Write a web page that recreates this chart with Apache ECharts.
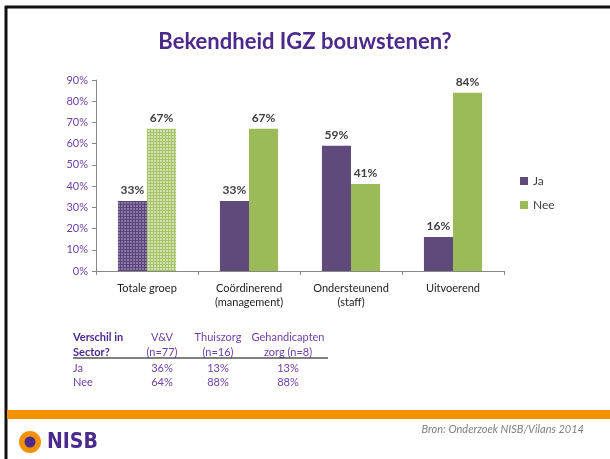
<!DOCTYPE html>
<html>
<head>
<meta charset="utf-8">
<script src="https://cdn.jsdelivr.net/npm/echarts@6/dist/echarts.min.js"></script>
<style>
  html, body { margin: 0; padding: 0; background: #fff; }
  #chart { width: 610px; height: 459px; }
</style>
</head>
<body>
<div id="chart"></div>
<script>
const categories = ['Totale groep', 'Coördinerend\n(management)', 'Ondersteunend\n(staff)', 'Uitvoerend'];
const jaValues = [33, 33, 59, 16];
const neeValues = [67, 67, 41, 84];
const yTicks = [0, 10, 20, 30, 40, 50, 60, 70, 80, 90];

// sector table below the chart
const tableHeaders = ['V&V\n(n=77)', 'Thuiszorg\n(n=16)', 'Gehandicapten\nzorg (n=8)'];
const tableJa = ['36%', '13%', '13%'];
const tableNee = ['64%', '88%', '88%'];

const PURPLE = '#604a7b';
const GREEN = '#9bbb59';
const FONT = 'Lato, "Open Sans", sans-serif';

// plaid fill for the "Totale groep" bars
function plaid(base, line) {
  const c = document.createElement('canvas');
  c.width = 6; c.height = 6;
  const g = c.getContext('2d');
  g.fillStyle = base; g.fillRect(0, 0, 6, 6);
  g.fillStyle = line;
  g.fillRect(0, 0, 6, 1);
  g.fillRect(0, 3, 6, 1);
  g.fillRect(0, 0, 1, 6);
  g.fillRect(3, 0, 1, 6);
  return { image: c, repeat: 'repeat' };
}

const chart = echarts.init(document.getElementById('chart'));

const valueLabel = {
  show: true,
  position: 'top',
  distance: 5,
  formatter: '{c}%',
  fontFamily: FONT,
  fontSize: 12,
  fontWeight: 'bold',
  color: '#404040'
};

const tableColX = [162, 218, 288];
const tableText = [];
tableText.push({ type: 'text', left: 73, top: 330,
  style: { text: 'Verschil in\nSector?', font: 'bold 11px ' + FONT, fill: '#4b2a8c', lineHeight: 15 } });
tableHeaders.forEach((h, i) => {
  tableText.push({ type: 'text', x: tableColX[i], y: 330,
    style: { text: h, font: '11px ' + FONT, fill: '#7040a8', align: 'center', lineHeight: 15 } });
  tableText.push({ type: 'text', x: tableColX[i], y: 363,
    style: { text: tableJa[i], font: '11px ' + FONT, fill: '#7040a8', align: 'center' } });
  tableText.push({ type: 'text', x: tableColX[i], y: 377,
    style: { text: tableNee[i], font: '11px ' + FONT, fill: '#7040a8', align: 'center' } });
});
tableText.push({ type: 'text', left: 73, top: 363, style: { text: 'Ja', font: '11px ' + FONT, fill: '#7040a8' } });
tableText.push({ type: 'text', left: 73, top: 377, style: { text: 'Nee', font: '11px ' + FONT, fill: '#7040a8' } });
tableText.push({ type: 'line', shape: { x1: 73, y1: 358, x2: 328, y2: 358 }, style: { stroke: '#000', lineWidth: 1 } });

const option = {
  backgroundColor: '#fff',
  animation: false,
  title: {
    text: 'Bekendheid IGZ bouwstenen?',
    left: 'center',
    top: 26,
    textStyle: { fontFamily: FONT, fontSize: 22, fontWeight: 'bold', color: '#4b2a8c' }
  },
  legend: {
    orient: 'vertical',
    left: 515,
    top: 170,
    itemWidth: 8,
    itemHeight: 8,
    itemGap: 12,
    icon: 'rect',
    textStyle: { fontFamily: FONT, fontSize: 12, color: '#404040' },
    data: ['Ja', 'Nee']
  },
  grid: { left: 96, right: 106, top: 80, bottom: 188 },
  xAxis: {
    type: 'category',
    data: categories,
    axisLine: { lineStyle: { color: '#888', width: 1 } },
    axisTick: { show: true, length: 4, lineStyle: { color: '#888' } },
    axisLabel: { fontFamily: FONT, fontSize: 11, color: '#222', margin: 10, lineHeight: 14 }
  },
  yAxis: {
    type: 'value',
    min: 0,
    max: 90,
    interval: 10,
    axisLine: { show: true, lineStyle: { color: '#888', width: 1 } },
    axisTick: { show: true, length: 4, lineStyle: { color: '#888' } },
    splitLine: { show: false },
    axisLabel: {
      fontFamily: FONT, fontSize: 11, color: '#7040a8', margin: 8,
      formatter: v => yTicks.includes(v) ? v + '%' : ''
    }
  },
  series: [
    {
      name: 'Ja',
      type: 'bar',
      barCategoryGap: '43%',
      barGap: '0%',
      itemStyle: { color: PURPLE },
      label: valueLabel,
      data: jaValues.map((v, i) => i === 0 ? { value: v, itemStyle: { color: plaid('#8c78a6', '#5a467a') } } : v)
    },
    {
      name: 'Nee',
      type: 'bar',
      barCategoryGap: '43%',
      barGap: '0%',
      itemStyle: { color: GREEN },
      label: valueLabel,
      data: neeValues.map((v, i) => i === 0 ? { value: v, itemStyle: { color: plaid('#d2e2ad', '#a7c46c') } } : v)
    }
  ],
  graphic: [
    // slide frame
    { type: 'line', shape: { x1: 5, y1: 7, x2: 610, y2: 7 }, style: { stroke: '#111', lineWidth: 3 } },
    { type: 'line', shape: { x1: 6, y1: 6, x2: 6, y2: 459 }, style: { stroke: '#111', lineWidth: 3 } },
    // footer
    { type: 'rect', shape: { x: 7, y: 410, width: 603, height: 9 }, style: { fill: '#f39200' } },
    { type: 'circle', shape: { cx: 30, cy: 442, r: 11 }, style: { fill: '#f39200' } },
    { type: 'circle', shape: { cx: 30, cy: 442, r: 5.5 }, style: { fill: '#4b2a8c' } },
    { type: 'text', left: 47, top: 432, style: { text: 'NISB', font: 'bold 21px "DejaVu Sans Condensed", ' + FONT, fill: '#4b2a8c' } },
    { type: 'text', right: 26, top: 424, style: { text: 'Bron: Onderzoek NISB/Vilans 2014', font: 'italic 11px ' + FONT, fill: '#7f7f7f' } }
  ].concat(tableText)
};

chart.setOption(option);
</script>
</body>
</html>
